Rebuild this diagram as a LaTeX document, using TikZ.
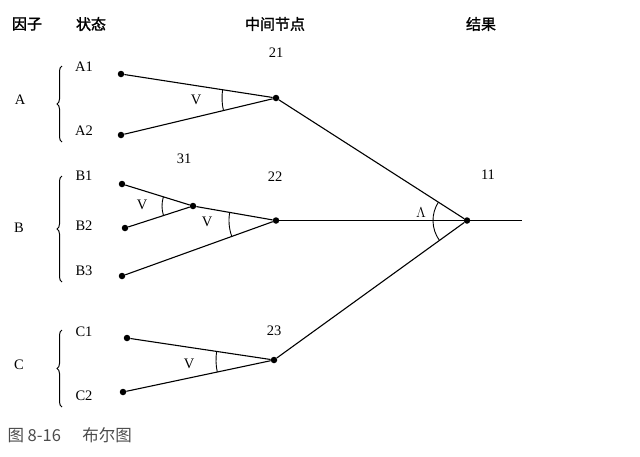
\documentclass[tikz,border=0pt]{standalone}
\usepackage{fontspec}
\setmainfont{Liberation Serif}
\newfontfamily\cjk{Noto Sans CJK SC}
\newfontfamily\cjkh[FakeBold=1.5]{Noto Sans CJK SC}
\usetikzlibrary{angles,decorations.pathreplacing}
\begin{document}
\begin{tikzpicture}[x=1pt,y=-1pt,
  dot/.style={circle,fill=black,inner sep=0pt,minimum size=6.5pt},
  lab/.style={font=\fontsize{14.5}{14.5}\selectfont},
  head/.style={font=\cjkh\fontsize{15}{15}\selectfont},
  edge/.style={line width=1.1pt},
  arcst/.style={draw,line width=0.9pt},
  bracest/.style={decorate,decoration={brace,amplitude=5pt},line width=1pt}]
\useasboundingbox (0,0) rectangle (640,456);
% headers
\node[head] (h1) at (27,24) {因子};
\node[head] (h2) at (91,24) {状态};
\node[head] (h3) at (275,24) {中间节点};
\node[head] (h4) at (481,24) {结果};
% dots
\node[dot] (A1) at (121,74) {};
\node[dot] (A2) at (121,135) {};
\node[dot] (n21) at (276,98) {};
\node[dot] (B1) at (122,184) {};
\node[dot] (B2) at (125,228) {};
\node[dot] (B3) at (122,276) {};
\node[dot] (n31) at (193,206) {};
\node[dot] (n22) at (276,220.5) {};
\node[dot] (C1) at (127,338) {};
\node[dot] (C2) at (123,392) {};
\node[dot] (n23) at (274,360) {};
\node[dot] (n11) at (467,220.5) {};
\coordinate (out) at (522,220.5);
% edges
\draw[edge] (A1) -- (n21);
\draw[edge] (A2) -- (n21);
\draw[edge] (B1) -- (n31);
\draw[edge] (B2) -- (n31);
\draw[edge] (n31) -- (n22);
\draw[edge] (B3) -- (n22);
\draw[edge] (C1) -- (n23);
\draw[edge] (C2) -- (n23);
\draw[edge] (n21) -- (n11);
\draw[edge] (n22) -- (n11);
\draw[edge] (n23) -- (n11);
\draw[edge] (n11) -- (out);
% angle arcs
\pic[arcst,angle radius=54pt] {angle=A1--n21--A2};
\pic[arcst,angle radius=31pt] {angle=B1--n31--B2};
\pic[arcst,angle radius=47pt] {angle=n31--n22--B3};
\pic[arcst,angle radius=58pt] {angle=C1--n23--C2};
\pic[arcst,angle radius=34pt] {angle=n21--n11--n23};
% labels
\node[lab] (lA1) at (84,67) {A1};
\node[lab] (lA2) at (84,131) {A2};
\node[lab] (lA) at (20,100) {A};
\node[lab] (l21) at (276,53) {21};
\node[lab] (v1) at (196,100) {V};
\node[lab] (lB1) at (84,176) {B1};
\node[lab] (lB2) at (84,226) {B2};
\node[lab] (lB3) at (84,271) {B3};
\node[lab] (lB) at (19,228) {B};
\node[lab] (l31) at (184,159) {31};
\node[lab] (l22) at (275,177) {22};
\node[lab] (v2) at (142,205) {V};
\node[lab] (v3) at (207,222) {V};
\node[lab] (l11) at (488,175) {11};
\node[lab] (lam) at (421,213) {$\Lambda$};
\node[lab] (lC1) at (84,332) {C1};
\node[lab] (lC2) at (84,396) {C2};
\node[lab] (lC) at (19,365) {C};
\node[lab] (l23) at (274,331) {23};
\node[lab] (v4) at (189,364) {V};
% braces
\draw[bracest] (62,142) -- (62,66);
\draw[bracest] (62,282) -- (62,176);
\draw[bracest] (62,407) -- (62,330);
% caption
\node[anchor=west,text=black!70,font=\cjk\fontsize{16.5}{16.5}\selectfont] (cap) at (4,435) {图 8-16\hspace{1.3em}布尔图};
\end{tikzpicture}
\end{document}
